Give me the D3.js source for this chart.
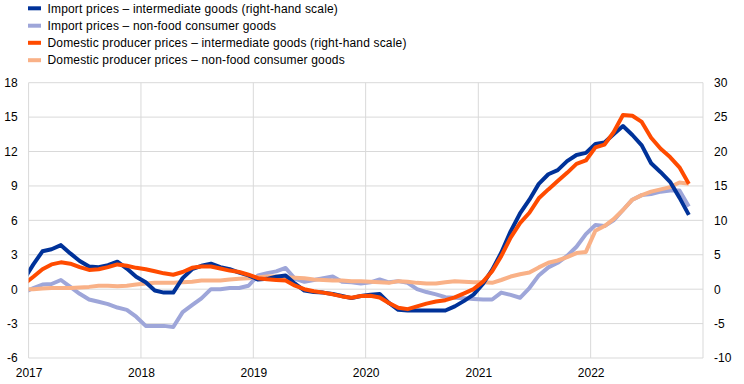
<!DOCTYPE html>
<html>
<head>
<meta charset="utf-8">
<script src="https://cdn.jsdelivr.net/npm/d3@7"></script>
<style>
  html, body { margin: 0; padding: 0; background: #fff; }
  svg { display: block; }
  text { font-family: "Liberation Sans", Arial, sans-serif; font-size: 12px; fill: #000; }
</style>
</head>
<body>
<svg id="chart" width="744" height="384"></svg>
<script>
// Months: Dec 2016 .. Nov 2022 (monthly, mid-month positions)
const months = d3.timeMonth.range(new Date(2016, 11, 1), new Date(2022, 11, 1));

const seriesNames = [
  "Import prices \u2013 intermediate goods (right-hand scale)",
  "Import prices \u2013 non-food consumer goods",
  "Domestic producer prices \u2013 intermediate goods (right-hand scale)",
  "Domestic producer prices \u2013 non-food consumer goods"
];

// Right-hand scale
const importIntermediate = [
  1.4, 3.6, 5.5, 5.8, 6.4, 5.2, 4.1, 3.3, 3.2, 3.5, 4.0, 3.0, 1.8,
  1.0, -0.2, -0.5, -0.5, 1.6, 2.9, 3.4, 3.7, 3.2, 2.9, 2.4, 2.0,
  1.4, 1.5, 1.8, 2.0, 0.8, -0.2, -0.4, -0.5, -0.7, -1.0, -1.3, -1.0,
  -0.8, -0.7, -2.0, -3.0, -3.1, -3.1, -3.1, -3.1, -3.1, -2.5, -1.7, -0.8,
  0.8, 2.8, 5.3, 8.4, 11.0, 13.0, 15.3, 16.7, 17.3, 18.6, 19.5, 19.8,
  21.1, 21.3, 22.5, 23.7, 22.4, 20.9, 18.3, 17.0, 15.6, 13.3, 10.8
];
// Left-hand scale
const importConsumer = [
  -0.3, 0.1, 0.4, 0.45, 0.8, 0.2, -0.4, -0.9, -1.1, -1.3, -1.6, -1.8, -2.4,
  -3.2, -3.2, -3.2, -3.3, -2.0, -1.4, -0.8, 0.0, 0.0, 0.1, 0.1, 0.3,
  1.2, 1.4, 1.55, 1.85, 0.9, 0.65, 0.8, 0.95, 1.1, 0.65, 0.6, 0.5,
  0.6, 0.85, 0.6, 0.7, 0.55, 0.0, -0.25, -0.45, -0.7, -0.75, -0.8, -0.85,
  -0.9, -0.9, -0.3, -0.5, -0.75, 0.1, 1.2, 1.9, 2.3, 2.9, 3.7, 4.8,
  5.6, 5.5, 6.0, 6.9, 7.8, 8.2, 8.3, 8.5, 8.6, 8.6, 7.2
];
// Right-hand scale
const domesticIntermediate = [
  0.7, 1.8, 2.9, 3.6, 3.9, 3.7, 3.2, 2.8, 2.9, 3.2, 3.6, 3.4, 3.1,
  2.9, 2.6, 2.3, 2.1, 2.5, 3.1, 3.3, 3.3, 3.0, 2.7, 2.5, 2.1,
  1.6, 1.45, 1.35, 1.25, 0.5, 0.0, -0.3, -0.5, -0.75, -1.05, -1.25, -1.0,
  -0.95, -1.2, -2.0, -2.7, -2.9, -2.5, -2.1, -1.8, -1.6, -1.2, -0.6, 0.0,
  1.1, 2.6, 4.8, 7.5, 9.6, 11.1, 13.2, 14.5, 15.7, 16.9, 18.2, 18.7,
  20.6, 21.0, 22.8, 25.3, 25.2, 24.3, 22.0, 20.4, 19.2, 17.7, 15.3
];
// Left-hand scale
const domesticConsumer = [
  0.0, 0.0, 0.05, 0.1, 0.1, 0.1, 0.15, 0.2, 0.3, 0.3, 0.25, 0.3, 0.4,
  0.5, 0.55, 0.55, 0.55, 0.6, 0.65, 0.75, 0.75, 0.75, 0.85, 0.9, 0.95,
  1.05, 1.1, 1.1, 1.05, 1.0, 0.95, 0.85, 0.8, 0.75, 0.75, 0.7, 0.7,
  0.65, 0.6, 0.55, 0.7, 0.65, 0.55, 0.5, 0.5, 0.6, 0.7, 0.65, 0.6,
  0.6, 0.55, 0.8, 1.1, 1.3, 1.45, 1.9, 2.3, 2.5, 2.8, 3.15, 3.25,
  5.1, 5.5, 6.1, 6.9, 7.8, 8.2, 8.5, 8.7, 8.9, 9.3, 9.2
];

const leftTicks = [-6, -3, 0, 3, 6, 9, 12, 15, 18];
const rightTicks = [-10, -5, 0, 5, 10, 15, 20, 25, 30];
const yearTicks = [2017, 2018, 2019, 2020, 2021, 2022, 2023];
const yearLabels = ["2017", "2018", "2019", "2020", "2021", "2022"];

const colors = ["#003299", "#9ea6d9", "#ff4b00", "#f9b187"];

// ---- layout ----
const svg = d3.select("#chart");
const plot = { left: 28.6, right: 703, top: 82.7, bottom: 358 };

const x = d3.scaleTime()
  .domain([new Date(2017, 0, 1), new Date(2023, 0, 1)])
  .range([plot.left, plot.right]);
const yL = d3.scaleLinear().domain([-6, 18]).range([plot.bottom, plot.top]);
const yR = d3.scaleLinear().domain([-10, 30]).range([plot.bottom, plot.top]);

const midMonth = d => new Date((d.getTime() + d3.timeMonth.offset(d, 1).getTime()) / 2);
const plainNum = d => String(d); // hyphen-minus as in the original

// grid
const grid = svg.append("g");
grid.selectAll(".hg").data(leftTicks).join("line")
  .attr("x1", plot.left).attr("x2", plot.right)
  .attr("y1", d => yL(d)).attr("y2", d => yL(d))
  .attr("stroke", "#d9d9d9").attr("stroke-width", 1);
grid.selectAll(".vg").data(yearTicks).join("line")
  .attr("x1", d => x(new Date(d, 0, 1))).attr("x2", d => x(new Date(d, 0, 1)))
  .attr("y1", plot.top).attr("y2", plot.bottom)
  .attr("stroke", "#d9d9d9").attr("stroke-width", 1);

const styleText = sel => sel.selectAll("text")
  .style("font-family", '"Liberation Sans", Arial, sans-serif')
  .style("font-size", "12px").attr("fill", "#000");

// axes (text only)
const leftAxis = d3.axisLeft(yL).tickValues(leftTicks).tickFormat(plainNum).tickSize(0).tickPadding(11);
svg.append("g").attr("transform", `translate(${plot.left},0)`).call(leftAxis)
  .call(g => g.select(".domain").remove()).call(styleText);

const rightAxis = d3.axisRight(yR).tickValues(rightTicks).tickFormat(plainNum).tickSize(0).tickPadding(11);
svg.append("g").attr("transform", `translate(${plot.right},0)`).call(rightAxis)
  .call(g => g.select(".domain").remove()).call(styleText);

const bottomAxis = d3.axisBottom(x)
  .tickValues(yearLabels.map(s => new Date(+s, 0, 1)))
  .tickFormat(d3.timeFormat("%Y")).tickSize(0).tickPadding(10);
svg.append("g").attr("transform", `translate(0,${plot.bottom})`).call(bottomAxis)
  .call(g => g.select(".domain").remove()).call(styleText);

// clip
svg.append("clipPath").attr("id", "clip").append("rect")
  .attr("x", plot.left).attr("y", 0)
  .attr("width", plot.right - plot.left).attr("height", 384);

const lineL = d3.line().x((d, i) => x(midMonth(months[i]))).y(d => yL(d));
const lineR = d3.line().x((d, i) => x(midMonth(months[i]))).y(d => yR(d));

const lines = svg.append("g").attr("clip-path", "url(#clip)");
const drawOrder = [
  { data: importConsumer, gen: lineL, color: colors[1] },
  { data: domesticConsumer, gen: lineL, color: colors[3] },
  { data: importIntermediate, gen: lineR, color: colors[0] },
  { data: domesticIntermediate, gen: lineR, color: colors[2] }
];
drawOrder.forEach(s => {
  lines.append("path").attr("d", s.gen(s.data))
    .attr("fill", "none").attr("stroke", s.color)
    .attr("stroke-width", 4).attr("stroke-linejoin", "round");
});

// legend
const legend = svg.append("g");
const legY = [8.3, 25.7, 42.8, 60.2];
seriesNames.forEach((name, i) => {
  legend.append("rect").attr("x", 28).attr("y", legY[i] - 2).attr("width", 13).attr("height", 4)
    .attr("fill", colors[i]);
  legend.append("text").attr("x", 47.5).attr("y", legY[i]).attr("dy", "0.35em")
    .style("letter-spacing", "0.17px").text(name);
});
</script>
</body>
</html>
